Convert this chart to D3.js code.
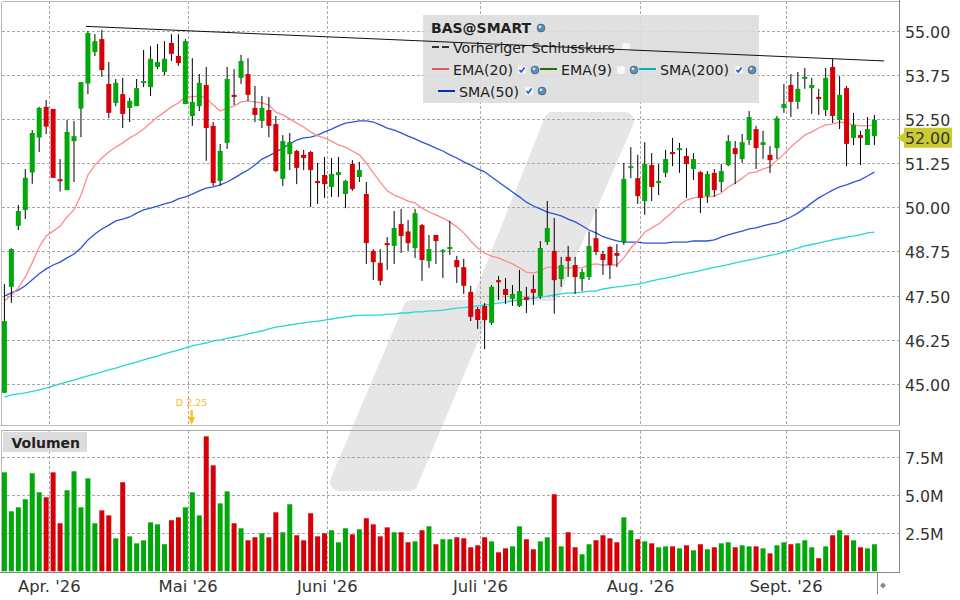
<!DOCTYPE html>
<html><head><meta charset="utf-8">
<script src="https://cdn.jsdelivr.net/npm/d3@7/dist/d3.min.js"></script>
<style>html,body{margin:0;padding:0;background:#fff}svg{display:block}text{font-family:"DejaVu Sans",sans-serif}</style>
</head><body><svg id="c" width="960" height="600"></svg>
<script>
const openP=[44.76,47.76,49.49,49.94,51.00,51.99,52.86,52.80,50.81,50.50,51.89,52.81,53.52,54.41,54.78,53.51,52.97,53.22,52.83,52.88,53.54,53.42,53.99,53.85,54.67,54.30,52.94,52.60,52.88,53.48,52.32,50.76,51.84,53.20,53.68,53.79,52.83,52.46,52.77,52.37,50.82,51.52,51.61,51.50,51.58,50.76,50.93,50.59,50.93,50.39,51.24,50.87,50.39,48.78,48.44,49.00,48.92,49.54,49.33,48.86,49.51,48.49,49.23,48.75,48.83,48.52,48.32,47.62,47.13,47.22,46.74,47.95,47.70,47.42,47.22,47.47,47.70,47.50,49.03,48.78,47.98,48.61,48.38,47.98,48.04,49.14,48.69,48.89,48.72,49.03,51.13,50.84,50.19,51.21,50.70,50.99,51.58,51.64,51.47,51.10,51.01,50.33,50.99,50.73,51.21,51.69,51.38,51.92,52.23,51.78,51.50,51.69,52.83,53.48,53.00,53.65,53.39,53.14,52.77,53.99,52.49,53.39,51.98,52.06,51.78,52.03];
const closeP=[46.79,48.83,49.91,50.85,52.12,52.83,52.30,50.85,50.76,52.15,52.03,53.56,54.95,54.72,53.90,52.69,53.54,52.66,53.03,53.39,53.59,54.22,54.13,54.22,54.36,54.10,54.72,53.00,53.54,52.26,50.70,51.61,53.65,53.14,54.16,53.20,52.63,52.83,52.32,51.04,51.89,51.86,51.13,51.41,51.07,50.70,50.67,50.96,51.01,50.76,50.53,51.07,49.00,48.46,47.93,48.95,49.43,49.20,49.00,49.85,48.52,48.83,49.06,48.80,48.89,48.32,47.79,46.91,46.82,46.82,47.76,47.90,47.53,47.56,47.64,47.39,47.59,48.86,49.43,47.95,48.38,48.49,48.04,48.18,48.92,48.75,48.52,48.38,48.64,50.82,51.18,50.33,51.24,50.59,50.76,51.38,51.52,51.69,51.24,51.38,50.28,50.96,50.50,51.04,51.89,51.52,51.86,52.57,51.69,51.86,51.35,52.54,52.94,53.00,53.37,53.71,53.48,53.08,53.68,52.60,53.20,51.81,52.35,51.98,52.23,52.49];
const highP=[47.84,48.85,50.08,51.10,52.20,52.86,53.05,52.80,51.38,52.49,52.46,53.56,55.00,54.92,55.04,54.13,53.65,53.68,53.11,53.65,54.47,54.58,54.64,54.72,54.92,54.92,54.78,54.24,53.79,53.99,52.43,51.81,53.99,53.93,54.33,54.24,53.45,53.17,53.14,52.60,52.06,52.12,51.64,51.64,51.61,51.27,51.44,51.41,51.44,50.79,51.35,51.30,50.73,48.83,48.83,49.17,49.91,49.97,49.65,49.97,49.54,49.23,49.23,48.83,49.63,48.64,48.55,47.79,47.19,47.30,47.81,48.07,48.01,47.81,48.24,47.76,48.10,49.06,50.19,49.71,48.61,48.92,48.61,48.27,49.33,49.97,48.78,48.92,48.97,51.27,51.72,51.50,51.86,51.55,51.24,51.64,51.98,51.84,51.69,51.55,51.04,51.04,51.10,51.24,52.06,51.89,52.09,52.74,52.32,52.18,51.75,52.60,53.51,53.79,53.85,53.96,53.68,53.37,53.96,54.22,53.73,53.45,52.69,52.18,52.57,52.63];
const lowP=[44.76,47.31,49.37,49.68,50.68,51.58,52.09,50.84,50.46,50.50,50.73,52.00,53.22,54.30,53.71,52.54,52.88,52.26,52.43,52.88,53.42,53.17,53.93,53.76,54.16,54.02,52.94,52.32,52.74,51.33,50.62,50.62,51.67,52.91,53.51,53.03,52.43,52.26,52.00,51.01,50.62,51.07,50.67,51.07,50.02,50.11,50.28,50.31,50.31,49.99,50.48,50.73,48.41,47.95,47.81,48.24,48.41,48.72,48.78,48.58,47.93,48.30,48.41,48.01,48.66,47.87,47.56,46.79,46.57,46.00,46.68,47.39,47.27,47.22,47.19,47.02,47.25,47.42,48.95,47.00,47.76,48.04,47.56,47.64,47.95,48.66,48.10,47.98,48.32,48.95,50.84,50.11,49.80,50.19,50.36,50.87,51.18,50.99,50.28,50.79,49.85,50.14,50.31,50.45,51.18,50.67,51.27,51.78,51.10,51.38,50.99,51.38,52.69,52.57,52.80,53.37,52.66,52.63,52.60,52.40,52.23,51.18,51.78,51.21,51.78,51.78];
const ema20=[47.36,47.53,47.73,48.04,48.44,48.89,49.20,49.34,49.48,49.74,49.94,50.36,50.93,51.21,51.41,51.58,51.72,51.84,51.98,52.09,52.23,52.40,52.57,52.71,52.86,52.97,53.14,53.14,53.17,53.11,52.91,52.74,52.83,52.88,53.00,53.03,53.00,52.97,52.91,52.71,52.63,52.52,52.40,52.29,52.15,52.04,51.98,51.89,51.78,51.72,51.61,51.50,51.27,50.99,50.73,50.48,50.36,50.28,50.19,50.14,49.99,49.88,49.80,49.71,49.60,49.46,49.29,49.06,48.86,48.72,48.63,48.58,48.49,48.41,48.30,48.18,48.15,48.21,48.32,48.32,48.30,48.30,48.30,48.30,48.38,48.41,48.38,48.38,48.38,48.58,48.86,49.06,49.31,49.43,49.54,49.71,49.88,50.08,50.22,50.28,50.31,50.31,50.33,50.42,50.59,50.70,50.84,50.99,51.01,51.10,51.16,51.35,51.52,51.72,51.89,52.06,52.15,52.26,52.35,52.37,52.43,52.40,52.35,52.32,52.32,52.35];
const sma50=[47.50,47.59,47.67,47.79,47.96,48.13,48.27,48.38,48.46,48.58,48.69,48.86,49.09,49.26,49.40,49.51,49.63,49.68,49.74,49.85,49.94,49.99,50.05,50.11,50.16,50.25,50.31,50.39,50.48,50.56,50.59,50.65,50.73,50.84,50.96,51.07,51.21,51.38,51.47,51.58,51.69,51.81,51.92,51.98,52.00,52.06,52.15,52.23,52.32,52.40,52.43,52.46,52.46,52.43,52.35,52.26,52.20,52.12,52.03,51.95,51.86,51.78,51.69,51.61,51.50,51.41,51.30,51.21,51.10,51.02,50.87,50.73,50.59,50.45,50.31,50.16,50.05,49.97,49.88,49.83,49.77,49.68,49.60,49.49,49.37,49.29,49.18,49.12,49.06,49.03,49.03,49.03,49.00,49.00,49.00,49.00,49.03,49.03,49.03,49.06,49.06,49.06,49.09,49.17,49.23,49.29,49.34,49.40,49.43,49.49,49.54,49.57,49.65,49.74,49.85,49.99,50.14,50.28,50.39,50.50,50.59,50.65,50.73,50.79,50.90,51.01];
const sma200=[44.64,44.70,44.73,44.76,44.80,44.84,44.89,44.95,45.01,45.07,45.12,45.18,45.24,45.29,45.35,45.41,45.46,45.52,45.58,45.63,45.69,45.75,45.80,45.86,45.92,45.97,46.03,46.09,46.13,46.17,46.23,46.26,46.30,46.34,46.38,46.43,46.47,46.51,46.57,46.62,46.65,46.68,46.71,46.74,46.77,46.79,46.82,46.85,46.88,46.91,46.94,46.95,46.96,46.96,46.96,46.99,46.99,47.02,47.02,47.05,47.05,47.08,47.08,47.10,47.13,47.16,47.17,47.19,47.22,47.25,47.27,47.30,47.33,47.36,47.39,47.42,47.44,47.47,47.50,47.53,47.56,47.59,47.59,47.61,47.64,47.64,47.70,47.73,47.76,47.78,47.81,47.84,47.88,47.93,47.97,48.01,48.05,48.10,48.14,48.18,48.22,48.27,48.31,48.35,48.39,48.44,48.48,48.52,48.56,48.61,48.65,48.69,48.75,48.80,48.86,48.92,48.96,49.00,49.05,49.09,49.13,49.17,49.20,49.24,49.29,49.31];
const volume=[6.51,3.95,4.21,4.74,6.45,5.20,4.87,6.51,3.16,5.33,6.58,4.21,6.12,3.16,4.01,3.68,2.17,5.86,2.30,1.84,2.04,3.22,3.09,1.78,3.36,3.55,4.21,5.20,3.68,8.88,6.97,4.47,5.26,3.16,2.83,2.04,2.24,2.50,2.24,3.88,2.57,4.41,2.37,2.04,3.82,2.30,2.50,2.70,1.91,2.83,2.43,2.76,3.49,3.09,2.30,2.89,2.57,2.57,1.91,1.97,2.70,2.96,1.78,2.11,2.11,2.24,2.17,1.58,1.71,2.24,1.97,1.25,1.51,1.64,2.96,2.11,1.45,1.97,2.24,5.07,1.64,2.57,1.58,1.12,1.78,2.04,2.37,2.17,1.91,3.55,2.70,2.11,1.97,1.84,1.58,1.64,1.64,1.51,1.71,1.38,1.78,1.45,1.58,1.84,1.91,1.58,1.71,1.64,1.64,1.51,1.18,1.71,1.91,1.78,1.84,2.04,1.58,0.86,1.64,2.37,2.70,2.37,2.04,1.58,1.51,1.78];
const volumeUp=[1,1,1,1,1,1,0,0,0,1,1,1,1,1,0,0,1,0,1,1,1,1,1,1,0,0,1,1,1,0,0,1,1,0,1,0,0,1,0,0,1,1,0,0,0,0,0,1,1,1,0,1,0,0,0,0,1,0,0,1,0,1,0,1,1,0,0,0,0,0,1,0,0,1,1,0,0,1,1,0,1,0,0,1,1,0,0,0,0,1,1,0,1,0,1,1,0,1,0,1,0,1,0,1,1,0,1,1,0,1,0,1,1,0,1,1,1,0,1,0,1,0,1,0,1,1];
const priceTicks=[55,53.75,52.5,51.25,50,48.75,47.5,46.25,45];
const volumeTicks=[2.5,5,7.5];
const monthTicks=[6.45,26.4,46.4,68.4,91.4,112.3];
const monthLabels=["Apr. '26","Mai '26","Juni '26","Juli '26","Aug. '26","Sept. '26"];
const trendIdx=[11.7,126.4], trendVal=[55.14,54.16];
const lastPrice=52.00;
const eventIdx=26.9, eventLabel="D 2.25";

const svg=d3.select("#c");
const x=d3.scaleLinear().domain([0,125]).range([4.4,874.4]);
const y=d3.scaleLinear().domain([45,55]).range([384.3,31.3]);
const v=d3.scaleLinear().domain([0,7.5]).range([571.3,457.3]);
const G="#00a80a",R="#d70008";

// watermark
svg.append("path").attr("d","M553 121L625 121L551 292L489 292L409 482L339 482L412 309L478 309Z")
  .attr("fill","#e6e6e6").attr("stroke","#e6e6e6").attr("stroke-width",18).attr("stroke-linejoin","round");

// gridlines
const gridC="#a8a8a8";
const grid=svg.append("g").attr("stroke",gridC).attr("stroke-width",1).attr("stroke-dasharray","3,2").attr("shape-rendering","crispEdges");
priceTicks.forEach(t=>grid.append("line").attr("x1",2).attr("x2",900).attr("y1",Math.floor(y(t))+.5).attr("y2",Math.floor(y(t))+.5));
volumeTicks.forEach(t=>grid.append("line").attr("x1",2).attr("x2",900).attr("y1",Math.floor(v(t))+.5).attr("y2",Math.floor(v(t))+.5));
monthTicks.forEach(t=>{const X=Math.floor(x(t))+.5;
  grid.append("line").attr("x1",X).attr("x2",X).attr("y1",1).attr("y2",425);
  grid.append("line").attr("x1",X).attr("x2",X).attr("y1",431).attr("y2",572);});

// legend panel
svg.append("rect").attr("x",423).attr("y",15).attr("width",336).attr("height",88).attr("fill","#dcdcdc").attr("fill-opacity",.88);
const legText=(t,X,Y,bold)=>svg.append("text").attr("x",X).attr("y",Y).attr("font-size",bold?"14px":"14.2px").attr("font-weight",bold?"bold":"normal").attr("fill","#222").text(t);
const globe=(X,Y)=>{svg.append("circle").attr("cx",X).attr("cy",Y).attr("r",3.9).attr("fill","#5f8db8").attr("stroke","#3d5f7d").attr("stroke-width",.8);
  svg.append("circle").attr("cx",X-1).attr("cy",Y-1.2).attr("r",1.4).attr("fill","#d6e6f4");};
const check=(X,Y,on)=>{svg.append("rect").attr("x",X-3.8).attr("y",Y-3.8).attr("width",7.6).attr("height",7.6).attr("rx",1.2).attr("fill","#f8f8fc");
  if(on)svg.append("path").attr("d",`M${X-2.6} ${Y}L${X-.8} ${Y+2}L${X+2.6} ${Y-2.4}`).attr("fill","none").attr("stroke","#1a55d0").attr("stroke-width",1.6);};
const legLine=(x1,x2,Y,c,dash)=>svg.append("line").attr("x1",x1).attr("x2",x2).attr("y1",Y).attr("y2",Y).attr("stroke",c).attr("stroke-width",2).attr("stroke-dasharray",dash||null);
legText("BAS@SMART",431,33,true); globe(541,28);
legLine(432,449,47,"#333","7,3"); legText("Vorheriger Schlusskurs",453,53); check(626,47,false);
legLine(432,449,69,"#e05a5a"); legText("EMA(20)",453,75); check(522,70,true); globe(535,70);
legLine(540,557,69,"#2e6a00"); legText("EMA(9)",561,75); check(621,70,false); globe(634,70);
legLine(639,656,69,"#00b4b4"); legText("SMA(200)",660,75); check(739,70,true); globe(752,70);
legLine(438,455,91,"#0a2fb0"); legText("SMA(50)",459,97); check(529,91,true); globe(542,91);

// moving averages
const ln=d3.line().x((d,i)=>x(i)).y(d=>y(d));
[[sma200,"#25d6d6"],[sma50,"#2a55d8"],[ema20,"#ff8a8a"]].forEach(([s,c])=>
  svg.append("path").datum(s).attr("d",ln).attr("fill","none").attr("stroke",c).attr("stroke-width",1.3));

// candles
const idx=d3.range(openP.length);
svg.append("g").selectAll("line").data(idx).join("line")
  .attr("x1",i=>x(i)).attr("x2",i=>x(i)).attr("y1",i=>y(highP[i])).attr("y2",i=>y(lowP[i]))
  .attr("stroke","#000").attr("stroke-width",1);
svg.append("g").selectAll("rect").data(idx).join("rect")
  .attr("x",i=>x(i)-2.5).attr("width",5)
  .attr("y",i=>y(Math.max(openP[i],closeP[i])))
  .attr("height",i=>Math.max(2,Math.abs(y(openP[i])-y(closeP[i]))))
  .attr("fill",i=>closeP[i]>=openP[i]?G:R);
// volume
svg.append("g").selectAll("rect").data(idx).join("rect")
  .attr("x",i=>x(i)-2.5).attr("width",5)
  .attr("y",i=>v(volume[i])).attr("height",i=>v(0)-v(volume[i]))
  .attr("fill",i=>volumeUp[i]?G:R);

// trend
svg.append("line").attr("x1",x(trendIdx[0])).attr("x2",x(trendIdx[1])).attr("y1",y(trendVal[0])).attr("y2",y(trendVal[1])).attr("stroke","#111").attr("stroke-width",1);

// panel frames
const fr=svg.append("g").attr("shape-rendering","crispEdges");
const L=(a,b,c,d,col)=>fr.append("line").attr("x1",a).attr("y1",b).attr("x2",c).attr("y2",d).attr("stroke",col);
L(1.5,1.5,900,1.5,"#bbb");L(1.5,1.5,1.5,425,"#bbb");L(0,425.5,900,425.5,"#bbb");
L(1.5,430.5,900,430.5,"#aaa");L(1.5,430,1.5,572,"#bbb");
L(899.5,0,899.5,425,"#888");L(899.5,430,899.5,573,"#888");L(0,572.5,900,572.5,"#888");
L(877.5,572,877.5,594,"#888");

// axis labels
const ax=(t,X,Y,a,fs)=>svg.append("text").attr("x",X).attr("y",Y).attr("font-size",fs||"15.8px").attr("fill","#333").attr("text-anchor",a||"start").text(t);
priceTicks.forEach(t=>ax(d3.format(".2f")(t),905,y(t)+6.5));
volumeTicks.forEach(t=>ax(d3.format(".1f")(t)+"M",905,v(t)+6.5));
monthTicks.forEach((t,i)=>ax(monthLabels[i],x(t),592,"middle","16.4px"));
svg.append("path").attr("d","M880 585.5L883 582.5L886 585.5L883 588.5Z").attr("fill","#888");

// last price
const yl=y(lastPrice)+.5;
svg.append("path").attr("d",`M897 ${yl}L904 ${yl-5}L904 ${yl-9}Q904 ${yl-10} 905 ${yl-10}L952 ${yl-10}L952 ${yl+10}L905 ${yl+10}Q904 ${yl+10} 904 ${yl+9}L904 ${yl+5}Z`).attr("fill","#cbcb2f");
ax("52.00",905,yl+6);

// Volumen label
svg.append("rect").attr("x",3).attr("y",432).attr("width",84).attr("height",20).attr("fill","#dcdcdc");
svg.append("text").attr("x",11.5).attr("y",448).attr("font-size","14px").attr("font-weight","bold").attr("fill","#222").text("Volumen");

// event
const ex=x(eventIdx);
svg.append("text").attr("x",ex).attr("y",405.5).attr("font-size","9.5px").attr("text-anchor","middle").attr("fill","#f7c21f").text(eventLabel);
svg.append("path").attr("d",`M${ex} 425L${ex-3.5} 417L${ex-1.2} 417L${ex-1.2} 410L${ex+1.2} 410L${ex+1.2} 417L${ex+3.5} 417Z`).attr("fill","#f7c21f");
</script></body></html>
